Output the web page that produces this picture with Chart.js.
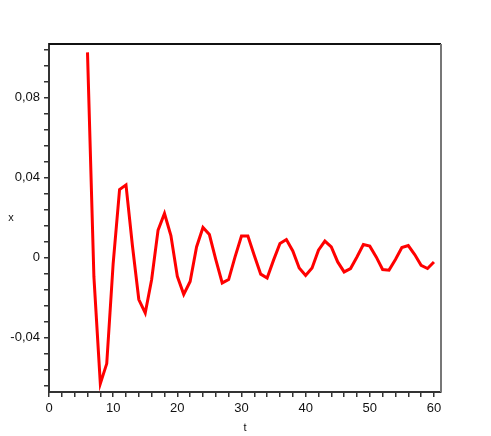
<!DOCTYPE html>
<html><head><meta charset="utf-8">
<script src="https://cdn.jsdelivr.net/npm/chart.js@4/dist/chart.umd.min.js"></script>
<style>html,body{margin:0;padding:0;background:#fff;}canvas{display:block;}</style>
</head><body>
<canvas id="c" width="491" height="436"></canvas>
<script>
const tValues = [6,7,8,9,10,11,12,13,14,15,16,17,18,19,20,21,22,23,24,25,26,27,28,29,30,31,32,33,34,35,36,37,38,39,40,41,42,43,44,45,46,47,48,49,50,51,52,53,54,55,56,57,58,59,60];
const xValues = [0.1025,-0.0097,-0.063,-0.053,-0.003,0.034,0.0363,0.006,-0.021,-0.0277,-0.011,0.0137,0.022,0.011,-0.0094,-0.0184,-0.012,0.0053,0.015,0.0115,-0.001,-0.0127,-0.011,0.0003,0.0107,0.0107,0.001,-0.0083,-0.0102,-0.0013,0.007,0.009,0.0033,-0.0052,-0.009,-0.0052,0.0037,0.0082,0.0053,-0.0022,-0.0072,-0.0055,0.0003,0.0065,0.0057,0.0003,-0.006,-0.0063,-0.001,0.005,0.006,0.0015,-0.0039,-0.0055,-0.0022];
const xAxisTitle = 't';
const yAxisTitle = 'x';
const xMajorTicks = [0,10,20,30,40,50,60];
const xTickLabels = ['0','10','20','30','40','50','60'];
const yMajorTicks = [-0.04,0,0.04,0.08];
const yTickLabels = ['-0,04','0','0,04','0,08'];

const FONT = {family: "'Liberation Sans Narrow', 'Liberation Sans', Arial, sans-serif", size: 13};

function minorTicks(scale, step){
  const out = [];
  const start = Math.ceil(scale.min/step - 1e-9);
  for (let k = start; k*step <= scale.max + 1e-9; k++) out.push({value: +(k*step).toFixed(6)});
  scale.ticks = out;
}
function labelFor(v, majors, labels){
  for (let i = 0; i < majors.length; i++) if (Math.abs(v - majors[i]) < 1e-9) return labels[i];
  return '';
}

const framePlugin = {
  id: 'frame',
  afterDraw(chart){
    const {ctx, chartArea: a} = chart;
    ctx.save();
    ctx.lineWidth = 2;
    ctx.strokeStyle = '#111';
    ctx.beginPath(); ctx.moveTo(a.left, a.top); ctx.lineTo(a.right, a.top); ctx.stroke();
    ctx.strokeStyle = '#777';
    ctx.beginPath(); ctx.moveTo(a.right, a.top); ctx.lineTo(a.right, a.bottom); ctx.stroke();
    // upright y-axis title
    ctx.fillStyle = '#111';
    ctx.font = "11px " + FONT.family;
    ctx.textAlign = 'center';
    ctx.textBaseline = 'middle';
    ctx.fillText(yAxisTitle, 11, (a.top + a.bottom) / 2);
    ctx.restore();
  }
};

new Chart(document.getElementById('c'), {
  type: 'line',
  data: {
    datasets: [{
      data: tValues.map((t, i) => ({x: t, y: xValues[i]})),
      borderColor: '#ff0000',
      borderWidth: 3,
      pointRadius: 0,
      tension: 0,
      fill: false
    }]
  },
  plugins: [framePlugin],
  options: {
    responsive: false,
    animation: false,
    layout: {padding: {top: 44, right: 50, left: 0, bottom: 0}},
    plugins: {legend: {display: false}, tooltip: {enabled: false}},
    scales: {
      x: {
        type: 'linear',
        min: 0, max: 61.1,
        afterBuildTicks: s => minorTicks(s, 2),
        afterFit: s => { s.height = 44; },
        grid: {drawOnChartArea: false, drawTicks: true, tickLength: 5, color: '#333', lineWidth: 1.5},
        border: {display: true, color: '#333', width: 2},
        ticks: {autoSkip: false, maxRotation: 0, padding: 4, color: '#111', font: FONT,
          callback: v => labelFor(v, xMajorTicks, xTickLabels)},
        title: {display: true, text: xAxisTitle, color: '#111', font: {family: FONT.family, size: 11}, padding: {top: 0, bottom: 1}}
      },
      y: {
        type: 'linear',
        min: -0.0672, max: 0.1067,
        afterBuildTicks: s => minorTicks(s, 0.008),
        afterFit: s => { s.width = 49; },
        grid: {drawOnChartArea: false, drawTicks: true, tickLength: 5, color: '#333', lineWidth: 1.5},
        border: {display: true, color: '#333', width: 2},
        ticks: {autoSkip: false, padding: 4, color: '#111', font: FONT,
          callback: v => labelFor(v, yMajorTicks, yTickLabels)},
        title: {display: false}
      }
    }
  }
});
</script>
</body></html>
